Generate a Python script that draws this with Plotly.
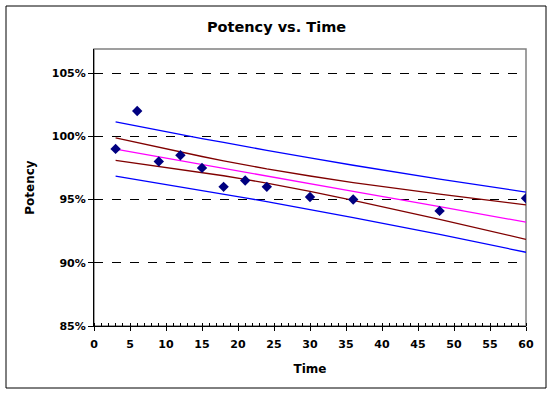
import plotly.graph_objects as go

# Data (percent potency)
time_pts = [3, 6, 9, 12, 15, 18, 21, 24, 30, 36, 48, 60]
potency = [99.0, 102.0, 98.0, 98.5, 97.5, 96.0, 96.5, 96.0, 95.2, 95.0, 94.1, 95.1]

fit_line = [98.99, 98.68, 98.38, 98.08, 97.77, 97.47, 97.16, 96.86, 96.25, 95.64, 94.43, 93.21]
upper_conf = [99.88, 99.50, 99.13, 98.77, 98.40, 98.06, 97.73, 97.42, 96.86, 96.34, 95.43, 94.57]
lower_conf = [98.10, 97.86, 97.63, 97.40, 97.14, 96.88, 96.59, 96.30, 95.65, 94.94, 93.43, 91.85]
upper_pred = [101.14, 100.80, 100.47, 100.15, 99.82, 99.51, 99.19, 98.89, 98.29, 97.71, 96.62, 95.59]
lower_pred = [96.85, 96.57, 96.29, 96.01, 95.72, 95.43, 95.13, 94.83, 94.21, 93.57, 92.24, 90.83]

y_ticks = [85, 90, 95, 100, 105]
x_ticks = list(range(0, 61, 5))

FONT = "DejaVu Sans, Liberation Sans, Arial, sans-serif"

fig = go.Figure()

def line(y, color):
    fig.add_trace(go.Scatter(x=time_pts, y=y, mode="lines",
                             line=dict(color=color, width=1.3), showlegend=False,
                             hoverinfo="skip"))

line(upper_pred, "#0000FF")
line(lower_pred, "#0000FF")
line(upper_conf, "#800000")
line(lower_conf, "#800000")
line(fit_line, "#FF00FF")

fig.add_trace(go.Scatter(x=time_pts, y=potency, mode="markers",
                         marker=dict(symbol="diamond", size=8, color="#000080"),
                         showlegend=False))

fig.update_layout(
    width=553, height=394,
    margin=dict(l=94, r=27, t=49, b=68),
    paper_bgcolor="white", plot_bgcolor="white",
    font=dict(family=FONT, size=11, color="black"),
    title=dict(text="<b>Potency vs. Time</b>", x=0.5, xanchor="center",
               y=1 - 27 / 394, yanchor="middle",
               font=dict(family=FONT, size=14.5, color="black")),
    xaxis=dict(range=[0, 60], tickvals=x_ticks, ticktext=[f"<b>{v}</b>" for v in x_ticks],
               showgrid=False, zeroline=False, showline=True, linecolor="black", linewidth=1,
               ticks="outside", ticklen=4, tickcolor="black", ticklabelstandoff=4,
               minor=dict(ticks="inside", dtick=1, ticklen=3, tickcolor="black", showgrid=False),
               title=dict(text="<b>Time</b>", font=dict(family=FONT, size=12), standoff=14)),
    yaxis=dict(range=[85, 106.9], tickvals=y_ticks,
               ticktext=[f"<b>{v}%</b>" for v in y_ticks],
               showgrid=True, gridcolor="black", griddash="dash", gridwidth=1,
               zeroline=False, showline=True, linecolor="black", linewidth=1,
               ticks="outside", ticklen=5, tickcolor="black",
               title=dict(text="<b>Potency</b>", font=dict(family=FONT, size=12), standoff=14)),
    shapes=[
        # plot area border (gray top/right)
        dict(type="rect", xref="paper", yref="paper", x0=0, x1=1, y0=0, y1=1,
             line=dict(color="#808080", width=1.5), layer="below"),
        # outer chart border
        dict(type="rect", xref="paper", yref="paper",
             x0=(6 - 94) / 432, x1=(546 - 94) / 432,
             y0=(326 - 388) / 277, y1=(326 - 6) / 277,
             line=dict(color="black", width=1)),
    ],
)

fig.write_html("out.html", config={"displayModeBar": False},
               post_script="document.body.style.margin='0';")
